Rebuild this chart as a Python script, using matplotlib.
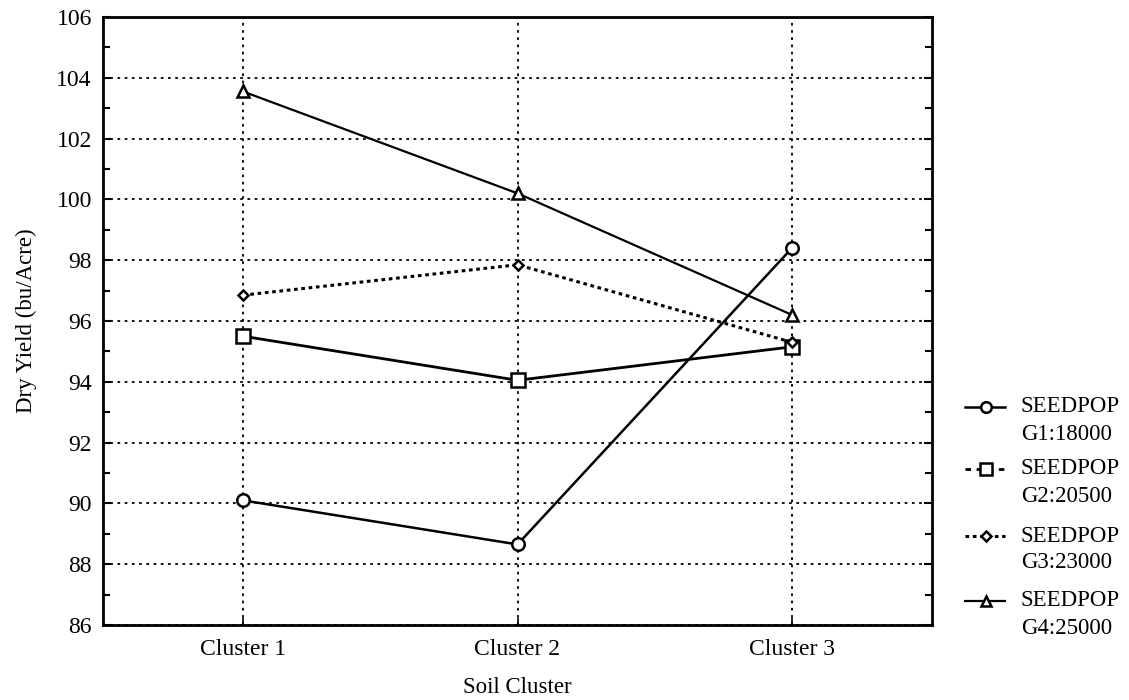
import matplotlib
matplotlib.use("Agg")
import matplotlib.pyplot as plt
from matplotlib.lines import Line2D
from matplotlib.ticker import MultipleLocator

plt.rcParams['font.family'] = ['Liberation Serif', 'DejaVu Serif']

clusters = ["Cluster 1", "Cluster 2", "Cluster 3"]
g1 = [90.1, 88.65, 98.4]
g2 = [95.5, 94.05, 95.15]
g3 = [96.85, 97.85, 95.3]
g4 = [103.55, 100.2, 96.2]
labels = ["SEEDPOP\nG1:18000", "SEEDPOP\nG2:20500", "SEEDPOP\nG3:23000", "SEEDPOP\nG4:25000"]

fig = plt.figure(figsize=(11.29, 7.0), dpi=100)
ax = fig.add_axes([103/1129, 75/700, (932-103)/1129, (625-17)/700])

x = list(range(len(clusters)))
styles = [
    dict(ls='-', marker='o', ms=9, lw=1.8),
    dict(ls='-', marker='s', ms=10, lw=2.0),
    dict(ls=(0, (1.2, 1.2)), marker='D', ms=5.5, lw=2.2),
    dict(ls='-', marker='^', ms=8, lw=1.6),
]
legend_ls = ['-', (0, (2, 2)), (0, (1.2, 1.2)), '-']
series = [g1, g2, g3, g4]
for ys, st in zip(series, styles):
    ax.plot(x, ys, color='black', mfc='white', mec='black', mew=1.8, **st, zorder=3)

ax.set_xlim(-0.51, 2.51)
ax.set_ylim(86, 106)
ax.set_xticks(x)
ax.set_xticklabels(clusters)
ax.yaxis.set_major_locator(MultipleLocator(2))
ax.yaxis.set_minor_locator(MultipleLocator(1))
ax.tick_params(axis='both', labelsize=17, colors='black')
ax.tick_params(axis='y', which='major', direction='in', length=6, width=1.5, right=True, pad=8)
ax.tick_params(axis='y', which='minor', direction='in', length=5, width=1.5, right=True)
ax.tick_params(axis='x', which='major', direction='in', length=5, width=1.2, pad=10)
ax.grid(True, which='major', color='black', ls=(0, (1.5, 2.5)), lw=1.3)
for sp in ax.spines.values():
    sp.set_linewidth(2.0)

ax.set_xlabel("Soil Cluster", fontsize=16.5, labelpad=12)
ax.set_ylabel("Dry Yield (bu/Acre)", fontsize=16.5, labelpad=14)

# Legend drawn manually at the right
W, H = 1129.0, 700.0
tops = [407, 469, 536, 601]
for i, (lab, st) in enumerate(zip(labels, styles)):
    yc = tops[i]
    ln = Line2D([965/W, 1005/W], [1 - yc/H, 1 - yc/H], transform=fig.transFigure,
                color='black', ls=legend_ls[i], lw=st['lw'])
    mk = Line2D([986/W], [1 - yc/H], transform=fig.transFigure, marker=st['marker'],
                ms=st['ms']*0.85, mfc='white', mec='black', mew=1.8, ls='none')
    fig.add_artist(ln)
    fig.add_artist(mk)
    fig.text(1021/W, 1 - yc/H, lab.split("\n")[0], fontsize=16.5, va='center', ha='left')
    fig.text(1021/W, 1 - (yc + 27)/H, lab.split("\n")[1], fontsize=16.5, va='center', ha='left')

fig.savefig("out.png", dpi=100)
